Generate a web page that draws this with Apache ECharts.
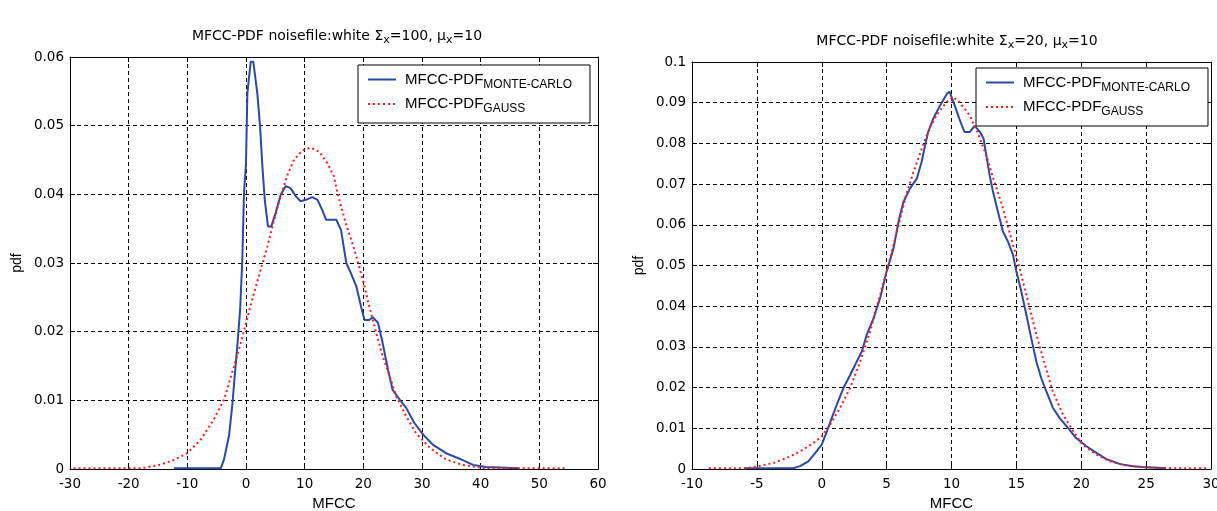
<!DOCTYPE html>
<html>
<head>
<meta charset="utf-8">
<script src="https://cdn.jsdelivr.net/npm/echarts@6/dist/echarts.min.js"></script>
<style>
html,body{margin:0;padding:0;background:#fff;}
#c{width:1217px;height:511px;}
</style>
</head>
<body>
<div id="c"></div>
<script>
// ---- Left chart (Sigma_x = 100) ----
const leftXTicks = [-30, -20, -10, 0, 10, 20, 30, 40, 50, 60];
const leftYTicks = [0, 0.01, 0.02, 0.03, 0.04, 0.05, 0.06];
const leftMcX = [-12.3, -4.3, -3.75, -2.9, -2.3, -1.93, -1.48, -1.0, -0.63, -0.34, 0, 0.23, 0.8, 1.25, 1.93, 2.4, 2.8, 3.2, 3.75, 4.3, 5.06, 5.9, 6.77, 7.6, 8.5, 9.3, 10.2, 11.3, 12.2, 13.0, 13.65, 15.4, 16.2, 17.1, 17.9, 18.8, 19.6, 20.2, 21.0, 21.6, 22.5, 23.3, 24.2, 25.0, 26.2, 27.3, 28.7, 30.2, 31.9, 34.1, 36.4, 38.7, 40.9, 46.6];
const leftMcY = [0.0001, 0.0001, 0.0014, 0.0048, 0.0096, 0.0135, 0.0179, 0.0232, 0.0305, 0.0402, 0.0445, 0.0547, 0.0593, 0.0593, 0.0547, 0.0499, 0.044, 0.0392, 0.0353, 0.0353, 0.0373, 0.0399, 0.0412, 0.0409, 0.0397, 0.039, 0.0392, 0.0396, 0.0392, 0.0377, 0.0363, 0.0363, 0.0348, 0.030, 0.0285, 0.0266, 0.0237, 0.0217, 0.0217, 0.0221, 0.0213, 0.0183, 0.0145, 0.0115, 0.0101, 0.0089, 0.0067, 0.005, 0.0035, 0.0023, 0.0015, 0.0006, 0.0003, 0.0001];
const leftGaussX = [-29.4, -18, -15.1, -12.3, -10, -7.7, -5.5, -3.75, -2.05, -0.9, 0, 1.37, 2.5, 3.64, 4.8, 5.9, 7.05, 8.2, 9.6, 11.0, 12.5, 13.9, 15.0, 15.6, 17.0, 18.5, 19.9, 21.0, 22.2, 23.3, 24.5, 25.6, 27.3, 29.0, 31.3, 34.1, 36.9, 40.9, 54.3];
const leftGaussY = [0.0001, 0.0001, 0.0005, 0.0013, 0.0023, 0.0043, 0.0072, 0.0101, 0.0149, 0.0183, 0.0213, 0.0256, 0.029, 0.0324, 0.0363, 0.0397, 0.0428, 0.045, 0.0464, 0.0468, 0.0462, 0.0445, 0.0426, 0.0402, 0.0358, 0.0319, 0.0276, 0.0237, 0.0198, 0.0164, 0.0135, 0.0106, 0.0077, 0.0052, 0.0031, 0.0014, 0.0006, 0.0001, 0.0001];

// ---- Right chart (Sigma_x = 20) ----
const rightXTicks = [-10, -5, 0, 5, 10, 15, 20, 25, 30];
const rightYTicks = [0, 0.01, 0.02, 0.03, 0.04, 0.05, 0.06, 0.07, 0.08, 0.09, 0.1];
const rightMcX = [-6.0, -2.2, -1.67, -1.03, -0.51, 0, 0.39, 0.77, 1.16, 1.67, 2.19, 2.7, 3.09, 3.47, 3.99, 4.5, 5.0, 5.53, 5.92, 6.3, 6.8, 7.33, 7.7, 7.97, 8.2, 8.6, 9.13, 9.65, 9.85, 10.24, 10.6, 11.0, 11.4, 11.78, 12.2, 12.47, 12.68, 12.94, 13.2, 13.58, 13.97, 14.35, 14.74, 15.0, 15.38, 15.77, 16.15, 16.54, 16.92, 17.31, 17.82, 18.34, 18.98, 19.6, 20.4, 21.2, 21.9, 23.0, 24.0, 25.03, 26.5];
const rightMcY = [0.0002, 0.0002, 0.0007, 0.0019, 0.0039, 0.006, 0.0092, 0.0125, 0.0158, 0.0199, 0.0231, 0.0264, 0.0289, 0.033, 0.037, 0.042, 0.0485, 0.0542, 0.0608, 0.0657, 0.0689, 0.0714, 0.0755, 0.0796, 0.0828, 0.0861, 0.0894, 0.0922, 0.0927, 0.0894, 0.0861, 0.0828, 0.0828, 0.0843, 0.0828, 0.0812, 0.0771, 0.0722, 0.0681, 0.0632, 0.0583, 0.0559, 0.0526, 0.0485, 0.0436, 0.0379, 0.0321, 0.0264, 0.0223, 0.0191, 0.015, 0.0125, 0.0101, 0.0076, 0.0056, 0.0039, 0.0025, 0.0012, 0.0007, 0.0004, 0.0002];
const rightGaussX = [-8.7, -5.8, -5, -3.7, -2.7, -1.67, -0.64, 0, 0.64, 1.41, 2.19, 2.96, 3.73, 4.5, 5.14, 5.79, 6.43, 7.07, 7.72, 8.36, 9.0, 9.65, 10.1, 10.6, 11.4, 12.0, 12.68, 13.3, 13.97, 14.6, 15.25, 15.9, 16.54, 17.2, 17.8, 18.6, 19.4, 20.1, 21.2, 22.2, 23.5, 25.0, 27.1, 29.8];
const rightGaussY = [0.0002, 0.0002, 0.0006, 0.0015, 0.0027, 0.0043, 0.0064, 0.008, 0.0109, 0.015, 0.0199, 0.0264, 0.0338, 0.0428, 0.0501, 0.0583, 0.0665, 0.073, 0.0788, 0.0841, 0.0877, 0.0902, 0.0914, 0.0902, 0.0869, 0.0828, 0.0771, 0.0706, 0.064, 0.0567, 0.0493, 0.0411, 0.033, 0.0256, 0.0191, 0.0133, 0.0092, 0.006, 0.0035, 0.0019, 0.0008, 0.0004, 0.0002, 0.0002];

const seriesNames = ['MFCC-PDF_MONTE-CARLO', 'MFCC-PDF_GAUSS'];
const titles = [
  ['MFCC-PDF noisefile:white Σ', 'x', '=100, μ', 'x', '=10'],
  ['MFCC-PDF noisefile:white Σ', 'x', '=20, μ', 'x', '=10']
];
const xName = 'MFCC';
const yName = 'pdf';

const FONT = '"Liberation Sans", Arial, sans-serif';
const WIDE = '"DejaVu Sans", sans-serif';
const BLUE = '#2b4aa6';
const RED = '#ff1a1a';

function zip(xs, ys) { return xs.map((x, i) => [x, ys[i]]); }
function titleRich(parts) {
  return parts.map((p, i) => (i % 2 === 0 ? '{t|' + p + '}' : '{s|' + p + '}')).join('');
}
const titleStyle = {
  fontWeight: 'normal',
  rich: {
    t: { fontSize: 14, fontFamily: WIDE, color: '#000', fontWeight: 'normal' },
    s: { fontSize: 11, fontFamily: WIDE, color: '#000', fontWeight: 'normal', padding: [9, 0, 0, 0] }
  }
};

const grids = [
  { left: 70, top: 57, width: 528, height: 412, outerBoundsMode: 'none', containLabel: false },
  { left: 692, top: 62, width: 519, height: 407, outerBoundsMode: 'none', containLabel: false }
];
const ticks = [[leftXTicks, leftYTicks], [rightXTicks, rightYTicks]];

const xAxes = [], yAxes = [];
grids.forEach((g, gi) => {
  const xt = ticks[gi][0], yt = ticks[gi][1];
  const xi = xt[1] - xt[0], yi = yt[1] - yt[0];
  xAxes.push({
    type: 'value', gridIndex: gi, min: xt[0], max: xt[xt.length - 1], interval: xi,
    name: xName, nameLocation: 'middle', nameGap: 26,
    nameTextStyle: { fontSize: 15, fontFamily: FONT, color: '#000' },
    axisLine: { show: true, onZero: false, lineStyle: { color: '#000', width: 1 } },
    axisTick: { show: true, inside: true, length: 5, lineStyle: { color: '#000' } },
    axisLabel: { fontSize: 13.5, fontFamily: WIDE, color: '#000', margin: 8 },
    splitLine: { show: true, lineStyle: { color: '#000', type: [4, 3], width: 1 } }
  });
  xAxes.push({
    type: 'value', gridIndex: gi, position: 'top', min: xt[0], max: xt[xt.length - 1], interval: xi,
    axisLine: { show: true, onZero: false, lineStyle: { color: '#000', width: 1 } },
    axisTick: { show: true, inside: true, length: 5, lineStyle: { color: '#000' } },
    axisLabel: { show: false }, splitLine: { show: false }
  });
  yAxes.push({
    type: 'value', gridIndex: gi, min: yt[0], max: yt[yt.length - 1], interval: yi,
    name: yName, nameLocation: 'middle', nameGap: 46, nameRotate: 90,
    nameTextStyle: { fontSize: 14, fontFamily: FONT, color: '#000' },
    axisLine: { show: true, onZero: false, lineStyle: { color: '#000', width: 1 } },
    axisTick: { show: true, inside: true, length: 5, lineStyle: { color: '#000' } },
    axisLabel: { fontSize: 13.5, fontFamily: WIDE, color: '#000', margin: 6,
      formatter: v => String(+v.toFixed(3)) },
    splitLine: { show: true, lineStyle: { color: '#000', type: [4, 3], width: 1 } }
  });
  yAxes.push({
    type: 'value', gridIndex: gi, position: 'right', min: yt[0], max: yt[yt.length - 1], interval: yi,
    axisLine: { show: true, onZero: false, lineStyle: { color: '#000', width: 1 } },
    axisTick: { show: true, inside: true, length: 5, lineStyle: { color: '#000' } },
    axisLabel: { show: false }, splitLine: { show: false }
  });
});

function mkSeries(name, gi, data, color, dotted) {
  return {
    name: name, type: 'line', xAxisIndex: gi * 2, yAxisIndex: gi * 2, data: data,
    symbol: 'none', showSymbol: false, animation: false, z: dotted ? 3 : 2,
    lineStyle: { color: color, width: 2, type: dotted ? [2, 3] : 'solid' },
    itemStyle: { color: color }
  };
}

const legendBase = {
  orient: 'vertical', itemWidth: 28, itemHeight: 14, itemGap: 6,
  backgroundColor: '#fff', borderColor: '#000', borderWidth: 1, borderRadius: 0,
  padding: [7, 18, 8, 9],
  data: seriesNames,
  itemStyle: { opacity: 0 },
  formatter: n => { const p = n.split('_'); return '{a|' + p[0] + '}{b|' + p[1] + '}'; },
  textStyle: {
    rich: {
      a: { fontSize: 15, fontFamily: FONT, color: '#000', padding: [0, 0, 0, 4] },
      b: { fontSize: 12, fontFamily: FONT, color: '#000', padding: [10, 0, 0, 0] }
    }
  }
};

const option = {
  backgroundColor: '#fff',
  animation: false,
  title: [
    { text: titleRich(titles[0]), left: 332, top: 21, textAlign: 'center', textStyle: titleStyle },
    { text: titleRich(titles[1]), left: 952, top: 26, textAlign: 'center', textStyle: titleStyle }
  ],
  legend: [
    Object.assign({}, legendBase, { left: 358, top: 65 }),
    Object.assign({}, legendBase, { left: 976, top: 68 })
  ],
  grid: grids,
  xAxis: xAxes,
  yAxis: yAxes,
  series: [
    mkSeries(seriesNames[0], 0, zip(leftMcX, leftMcY), BLUE, false),
    mkSeries(seriesNames[1], 0, zip(leftGaussX, leftGaussY), RED, true),
    mkSeries(seriesNames[0], 1, zip(rightMcX, rightMcY), BLUE, false),
    mkSeries(seriesNames[1], 1, zip(rightGaussX, rightGaussY), RED, true)
  ]
};

const chart = echarts.init(document.getElementById('c'), null, { renderer: 'canvas' });
chart.setOption(option);
</script>
</body>
</html>
